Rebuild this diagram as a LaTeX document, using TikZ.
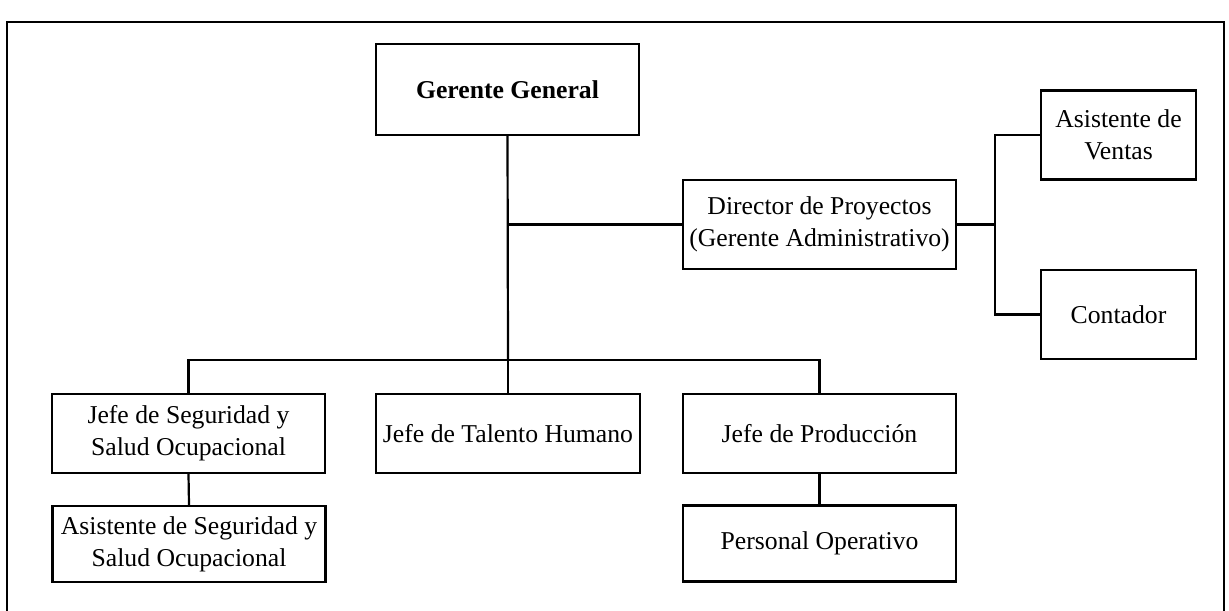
\documentclass[tikz,border=0pt]{standalone}
\usepackage{fontspec}
\setmainfont{Liberation Serif}
\begin{document}
\begin{tikzpicture}[x=0.5pt,y=-0.5pt,
  box/.style={draw, line width=1.2pt, align=center, inner sep=0pt,
    font=\fontsize{12.85}{16}\selectfont},
  wide/.style={minimum width=136.5pt},
  small/.style={minimum width=77.5pt, minimum height=44.5pt},
  row/.style={minimum height=39.5pt},
  low/.style={minimum height=38pt},
  conn/.style={line width=1.1pt},
  frame/.style={line width=1.1pt}]
\useasboundingbox (0,0) rectangle (1229,610);
\clip (0,0) rectangle (1229,610);
\draw[frame] (7,640) |- (1224,22) -- (1224,640);

\node[box, minimum width=131.5pt, minimum height=45.5pt] (gg) at (507.5,89.5) {\textbf{Gerente General}};
\node[box, wide, minimum height=44.5pt] (dir) at (819.5,224.5) {Director de Proyectos\\(Gerente Administrativo)};
\node[box, small] (ven) at (1118.5,135) {Asistente de\\Ventas};
\node[box, small] (con) at (1118.5,314.5) {Contador};
\node[box, wide, row] (seg) at (188.5,433.5) {Jefe de Seguridad y\\Salud Ocupacional};
\node[box, minimum width=132pt, row] (tal) at (508,433.5) {Jefe de Talento Humano};
\node[box, wide, row] (pro) at (819.5,433.5) {Jefe de Producción};
\node[box, wide, low] (aseg) at (189,544) {Asistente de Seguridad y\\Salud Ocupacional};
\node[box, wide, low] (per) at (819.5,543.5) {Personal Operativo};

\coordinate (bus) at (508,360);
\coordinate (j) at (508,224.5);
\coordinate (rb) at (995,224.5);

\draw[conn] (gg.south) -- (bus);
\draw[conn] (seg.north) |- (bus) -| (pro.north);
\draw[conn] (tal.north) -- (tal.north |- bus);
\draw[conn] (j) -- (dir.west);
\draw[conn] (dir.east) -- (rb);
\draw[conn] (ven.west) -| (rb) |- (con.west);
\draw[conn] (seg.south) -- (aseg.north);
\draw[conn] (pro.south) -- (per.north);
\end{tikzpicture}
\end{document}
